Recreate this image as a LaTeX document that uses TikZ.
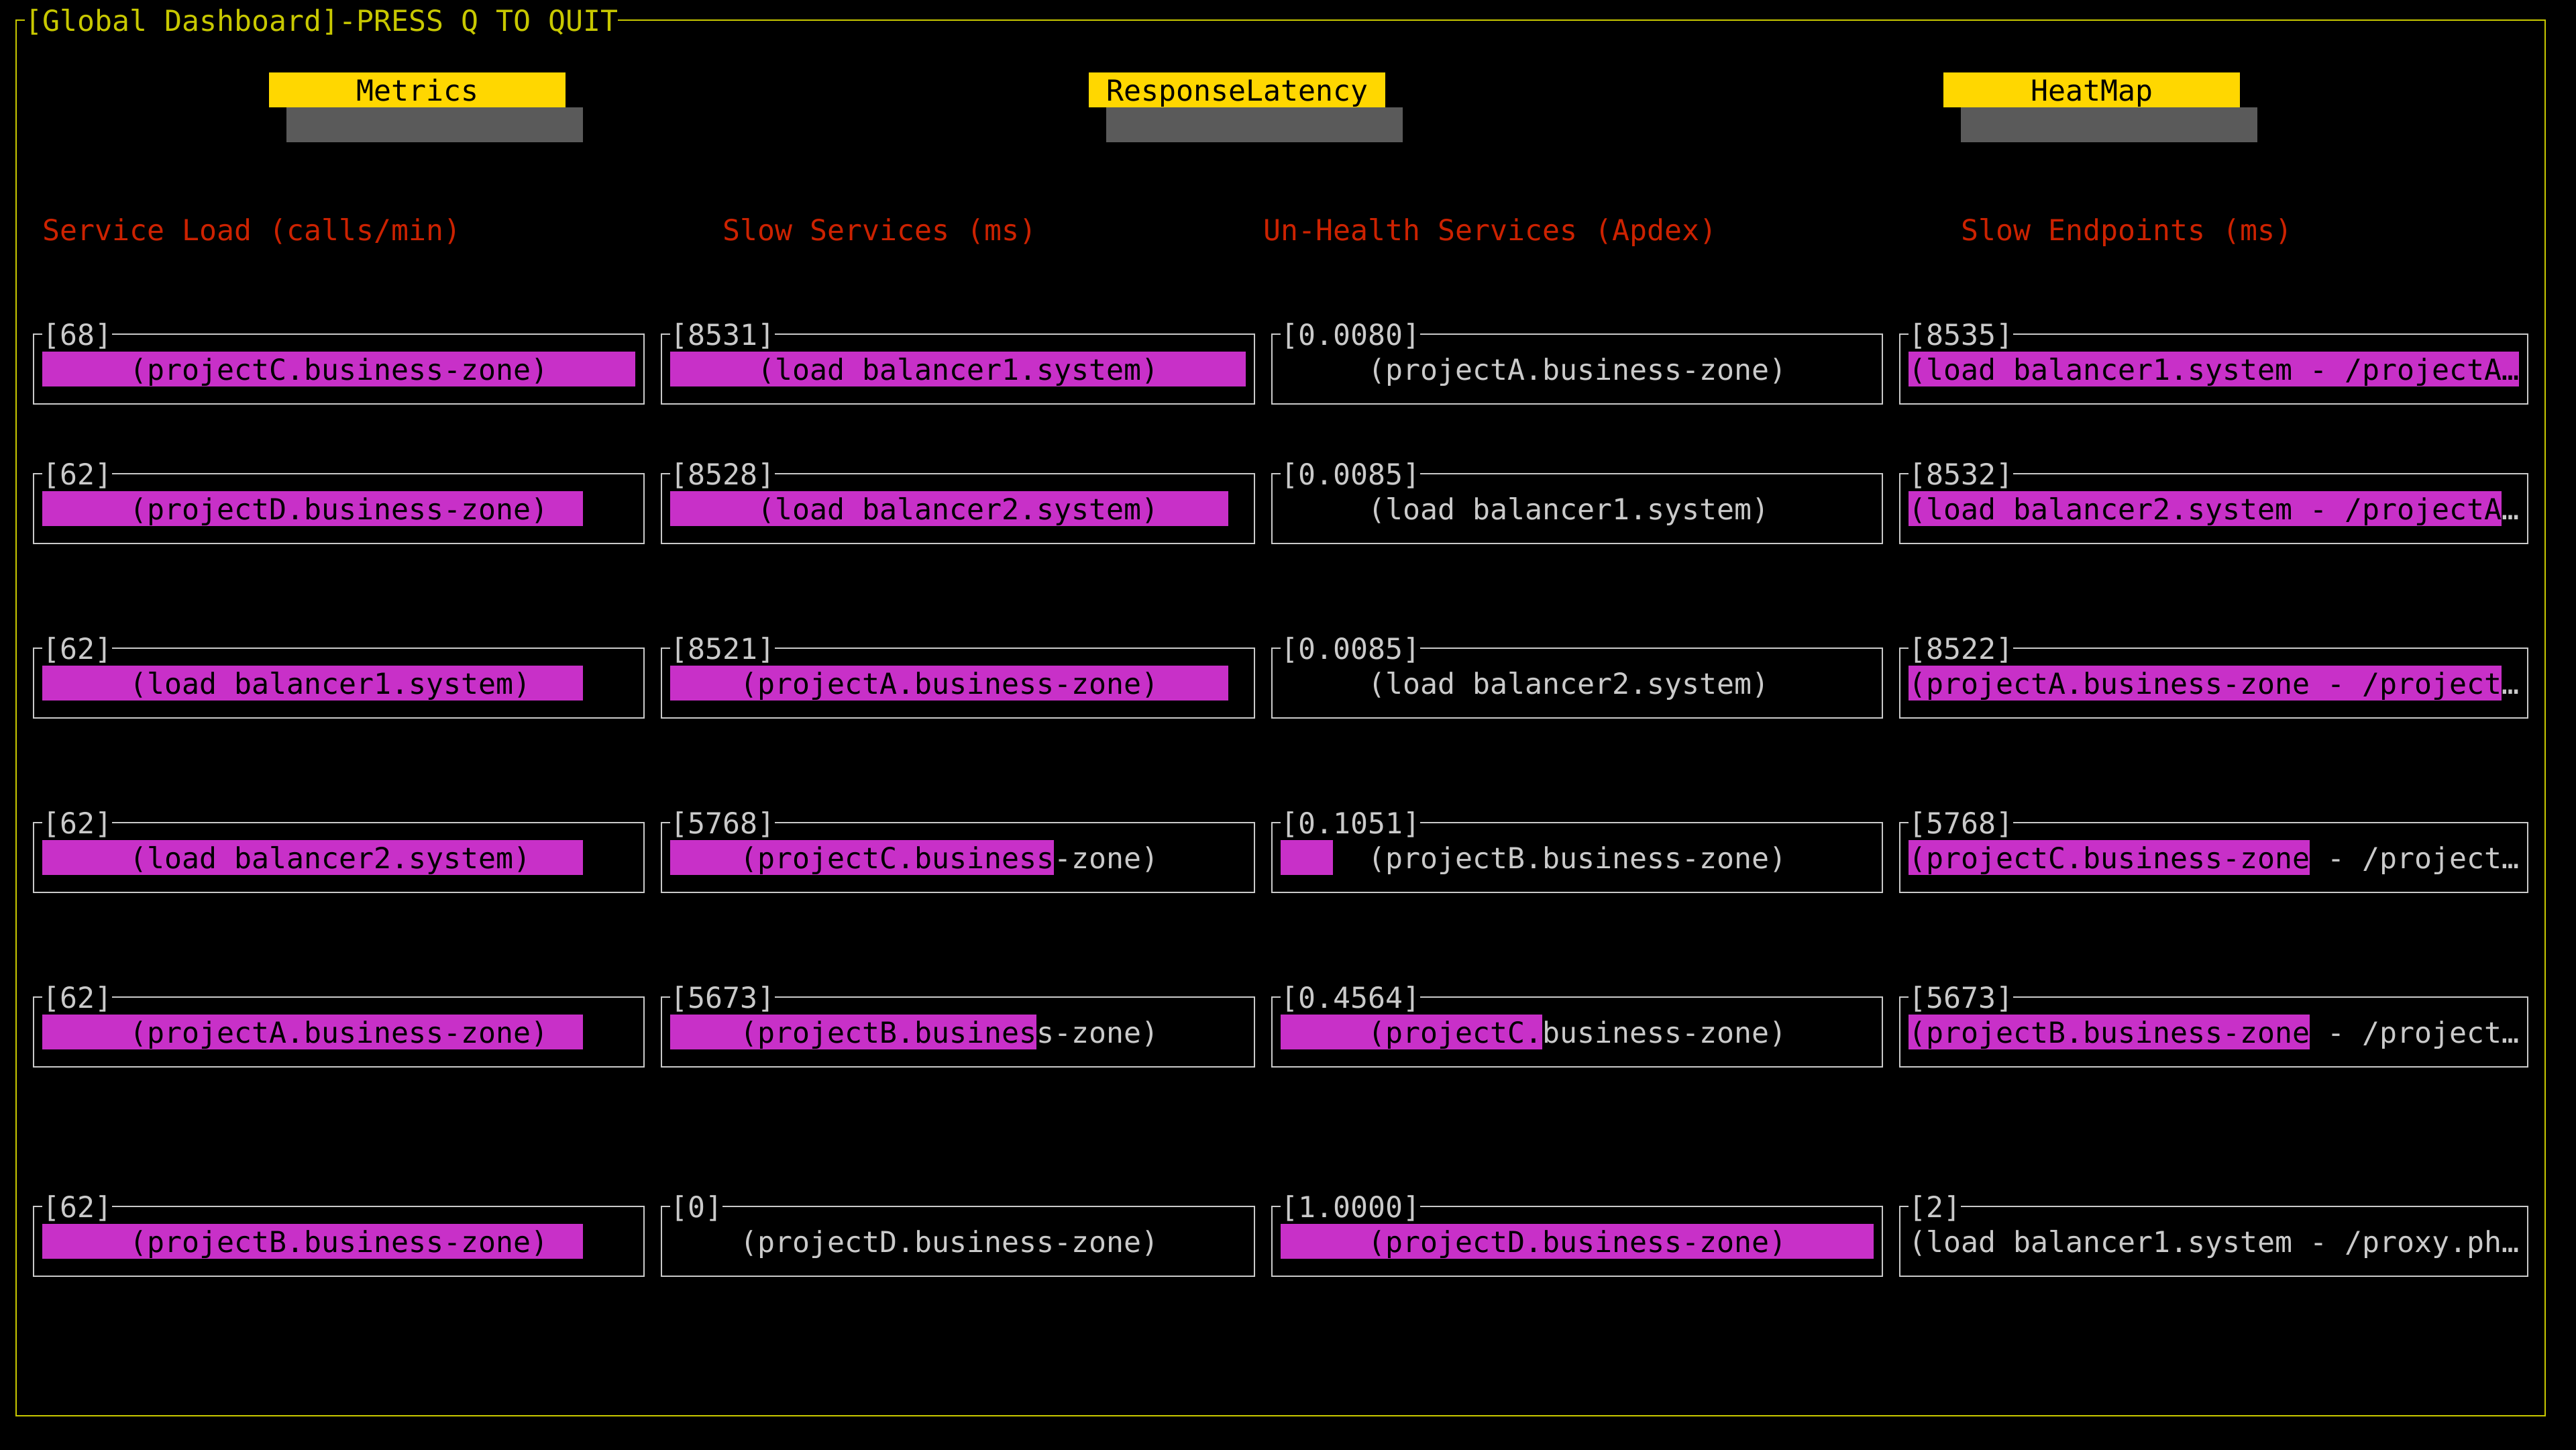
\documentclass[tikz,border=0pt]{standalone}
\usepackage{fontspec}
\setmonofont{DejaVu Sans Mono}

\definecolor{Frame}{HTML}{C8C800}
\definecolor{Tab}{HTML}{FFD700}
\definecolor{TabShadow}{HTML}{5A5A5A}
\definecolor{Head}{HTML}{CC2200}
\definecolor{Gauge}{HTML}{C830C8}
\definecolor{Box}{HTML}{CACACA}

\begin{document}
\begin{tikzpicture}[x=0.26cm, y=-0.52cm,
  term/.style={anchor=base west, inner sep=0pt, outer sep=0pt, text=Box, font=\ttfamily\fontsize{12.29pt}{14pt}\selectfont},
  outerline/.style={line width=0.7pt, color=Frame},
  boxline/.style={line width=0.7pt, color=Box}]

%%%%%%%%%% Screen %%%%%%%%%%
 \useasboundingbox (-0.92308,-0.57692) rectangle (146.76923,40.96154) ;
 \fill [black] (-2,-1.5) rectangle (148,42) ;

 \draw [outerline] (0.5,0) -- (0,0) -- (0,40) -- (145,40) -- (145,0) -- (34.5,0) ;
 \node [term, text=Frame] (ttl) at (0.5,0.315) {[Global Dashboard]-PRESS Q TO QUIT};

%%%%%%%%%% Tabs %%%%%%%%%%
 \fill [Tab] (14.5,1.5) rectangle (31.5,2.5) ;
 \fill [TabShadow] (15.5,2.5) rectangle (32.5,3.5) ;
 \node [term, text=black] (tabM) at (19.5,2.315) {Metrics};

 \fill [Tab] (61.5,1.5) rectangle (78.5,2.5) ;
 \fill [TabShadow] (62.5,2.5) rectangle (79.5,3.5) ;
 \node [term, text=black] (tabR) at (62.5,2.315) {ResponseLatency};

 \fill [Tab] (110.5,1.5) rectangle (127.5,2.5) ;
 \fill [TabShadow] (111.5,2.5) rectangle (128.5,3.5) ;
 \node [term, text=black] (tabH) at (115.5,2.315) {HeatMap};

%%%%%%%%%% Titles %%%%%%%%%%
 \node [term, text=Head] (hLoad) at (1.5,6.315) {Service Load (calls/min)};
 \node [term, text=Head] (hSlow) at (40.5,6.315) {Slow Services (ms)};
 \node [term, text=Head] (hApdex) at (71.5,6.315) {Un-Health Services (Apdex)};
 \node [term, text=Head] (hEnd) at (111.5,6.315) {Slow Endpoints (ms)};

%%%%%%%%%%% Service Load %%%%%%%%%%%
 \draw [boxline] (1.5,9) -- (1,9) -- (1,11) -- (36,11) -- (36,9) -- (5.5,9) ;
 \draw [boxline] (1.5,13) -- (1,13) -- (1,15) -- (36,15) -- (36,13) -- (5.5,13) ;
 \draw [boxline] (1.5,18) -- (1,18) -- (1,20) -- (36,20) -- (36,18) -- (5.5,18) ;
 \draw [boxline] (1.5,23) -- (1,23) -- (1,25) -- (36,25) -- (36,23) -- (5.5,23) ;
 \draw [boxline] (1.5,28) -- (1,28) -- (1,30) -- (36,30) -- (36,28) -- (5.5,28) ;
 \draw [boxline] (1.5,34) -- (1,34) -- (1,36) -- (36,36) -- (36,34) -- (5.5,34) ;

 \fill [Gauge] (1.5,9.5) rectangle (35.5,10.5) ;
 \fill [Gauge] (1.5,13.5) rectangle (32.5,14.5) ;
 \fill [Gauge] (1.5,18.5) rectangle (32.5,19.5) ;
 \fill [Gauge] (1.5,23.5) rectangle (32.5,24.5) ;
 \fill [Gauge] (1.5,28.5) rectangle (32.5,29.5) ;
 \fill [Gauge] (1.5,34.5) rectangle (32.5,35.5) ;

 \node [term] (l11) at (1.5,9.315) {[68]};
 \node [term] (l12) at (1.5,13.315) {[62]};
 \node [term] (l13) at (1.5,18.315) {[62]};
 \node [term] (l14) at (1.5,23.315) {[62]};
 \node [term] (l15) at (1.5,28.315) {[62]};
 \node [term] (l16) at (1.5,34.315) {[62]};

 \node [term, text=black] (s11) at (6.5,10.315) {(projectC.business-zone)};
 \node [term, text=black] (s12) at (6.5,14.315) {(projectD.business-zone)};
 \node [term, text=black] (s13) at (6.5,19.315) {(load balancer1.system)};
 \node [term, text=black] (s14) at (6.5,24.315) {(load balancer2.system)};
 \node [term, text=black] (s15) at (6.5,29.315) {(projectA.business-zone)};
 \node [term, text=black] (s16) at (6.5,35.315) {(projectB.business-zone)};

%%%%%%%%%%% Slow Services %%%%%%%%%%%
 \draw [boxline] (37.5,9) -- (37,9) -- (37,11) -- (71,11) -- (71,9) -- (43.5,9) ;
 \draw [boxline] (37.5,13) -- (37,13) -- (37,15) -- (71,15) -- (71,13) -- (43.5,13) ;
 \draw [boxline] (37.5,18) -- (37,18) -- (37,20) -- (71,20) -- (71,18) -- (43.5,18) ;
 \draw [boxline] (37.5,23) -- (37,23) -- (37,25) -- (71,25) -- (71,23) -- (43.5,23) ;
 \draw [boxline] (37.5,28) -- (37,28) -- (37,30) -- (71,30) -- (71,28) -- (43.5,28) ;
 \draw [boxline] (37.5,34) -- (37,34) -- (37,36) -- (71,36) -- (71,34) -- (40.5,34) ;

 \fill [Gauge] (37.5,9.5) rectangle (70.5,10.5) ;
 \fill [Gauge] (37.5,13.5) rectangle (69.5,14.5) ;
 \fill [Gauge] (37.5,18.5) rectangle (69.5,19.5) ;
 \fill [Gauge] (37.5,23.5) rectangle (59.5,24.5) ;
 \fill [Gauge] (37.5,28.5) rectangle (58.5,29.5) ;

 \node [term] (l21) at (37.5,9.315) {[8531]};
 \node [term] (l22) at (37.5,13.315) {[8528]};
 \node [term] (l23) at (37.5,18.315) {[8521]};
 \node [term] (l24) at (37.5,23.315) {[5768]};
 \node [term] (l25) at (37.5,28.315) {[5673]};
 \node [term] (l26) at (37.5,34.315) {[0]};

 \node [term, text=black] (s21) at (42.5,10.315) {(load balancer1.system)};
 \node [term, text=black] (s22) at (42.5,14.315) {(load balancer2.system)};
 \node [term, text=black] (s23) at (41.5,19.315) {(projectA.business-zone)};
 \node [term] (s24) at (41.5,24.315) {\textcolor{black}{(projectC.business}-zone)};
 \node [term] (s25) at (41.5,29.315) {\textcolor{black}{(projectB.busines}s-zone)};
 \node [term] (s26) at (41.5,35.315) {(projectD.business-zone)};

%%%%%%%%%%% Un-Health Services %%%%%%%%%%%
 \draw [boxline] (72.5,9) -- (72,9) -- (72,11) -- (107,11) -- (107,9) -- (80.5,9) ;
 \draw [boxline] (72.5,13) -- (72,13) -- (72,15) -- (107,15) -- (107,13) -- (80.5,13) ;
 \draw [boxline] (72.5,18) -- (72,18) -- (72,20) -- (107,20) -- (107,18) -- (80.5,18) ;
 \draw [boxline] (72.5,23) -- (72,23) -- (72,25) -- (107,25) -- (107,23) -- (80.5,23) ;
 \draw [boxline] (72.5,28) -- (72,28) -- (72,30) -- (107,30) -- (107,28) -- (80.5,28) ;
 \draw [boxline] (72.5,34) -- (72,34) -- (72,36) -- (107,36) -- (107,34) -- (80.5,34) ;

 \fill [Gauge] (72.5,23.5) rectangle (75.5,24.5) ;
 \fill [Gauge] (72.5,28.5) rectangle (87.5,29.5) ;
 \fill [Gauge] (72.5,34.5) rectangle (106.5,35.5) ;

 \node [term] (l31) at (72.5,9.315) {[0.0080]};
 \node [term] (l32) at (72.5,13.315) {[0.0085]};
 \node [term] (l33) at (72.5,18.315) {[0.0085]};
 \node [term] (l34) at (72.5,23.315) {[0.1051]};
 \node [term] (l35) at (72.5,28.315) {[0.4564]};
 \node [term] (l36) at (72.5,34.315) {[1.0000]};

 \node [term] (s31) at (77.5,10.315) {(projectA.business-zone)};
 \node [term] (s32) at (77.5,14.315) {(load balancer1.system)};
 \node [term] (s33) at (77.5,19.315) {(load balancer2.system)};
 \node [term] (s34) at (77.5,24.315) {(projectB.business-zone)};
 \node [term] (s35) at (77.5,29.315) {\textcolor{black}{(projectC.}business-zone)};
 \node [term, text=black] (s36) at (77.5,35.315) {(projectD.business-zone)};

%%%%%%%%%%% Slow Endpoints %%%%%%%%%%%
 \draw [boxline] (108.5,9) -- (108,9) -- (108,11) -- (144,11) -- (144,9) -- (114.5,9) ;
 \draw [boxline] (108.5,13) -- (108,13) -- (108,15) -- (144,15) -- (144,13) -- (114.5,13) ;
 \draw [boxline] (108.5,18) -- (108,18) -- (108,20) -- (144,20) -- (144,18) -- (114.5,18) ;
 \draw [boxline] (108.5,23) -- (108,23) -- (108,25) -- (144,25) -- (144,23) -- (114.5,23) ;
 \draw [boxline] (108.5,28) -- (108,28) -- (108,30) -- (144,30) -- (144,28) -- (114.5,28) ;
 \draw [boxline] (108.5,34) -- (108,34) -- (108,36) -- (144,36) -- (144,34) -- (111.5,34) ;

 \fill [Gauge] (108.5,9.5) rectangle (143.5,10.5) ;
 \fill [Gauge] (108.5,13.5) rectangle (142.5,14.5) ;
 \fill [Gauge] (108.5,18.5) rectangle (142.5,19.5) ;
 \fill [Gauge] (108.5,23.5) rectangle (131.5,24.5) ;
 \fill [Gauge] (108.5,28.5) rectangle (131.5,29.5) ;

 \node [term] (l41) at (108.5,9.315) {[8535]};
 \node [term] (l42) at (108.5,13.315) {[8532]};
 \node [term] (l43) at (108.5,18.315) {[8522]};
 \node [term] (l44) at (108.5,23.315) {[5768]};
 \node [term] (l45) at (108.5,28.315) {[5673]};
 \node [term] (l46) at (108.5,34.315) {[2]};

 \node [term, text=black] (s41) at (108.5,10.315) {(load balancer1.system - /projectA…};
 \node [term] (s42) at (108.5,14.315) {\textcolor{black}{(load balancer2.system - /projectA}…};
 \node [term] (s43) at (108.5,19.315) {\textcolor{black}{(projectA.business-zone - /project}…};
 \node [term] (s44) at (108.5,24.315) {\textcolor{black}{(projectC.business-zone} - /project…};
 \node [term] (s45) at (108.5,29.315) {\textcolor{black}{(projectB.business-zone} - /project…};
 \node [term] (s46) at (108.5,35.315) {(load balancer1.system - /proxy.ph…};

\end{tikzpicture}
\end{document}
